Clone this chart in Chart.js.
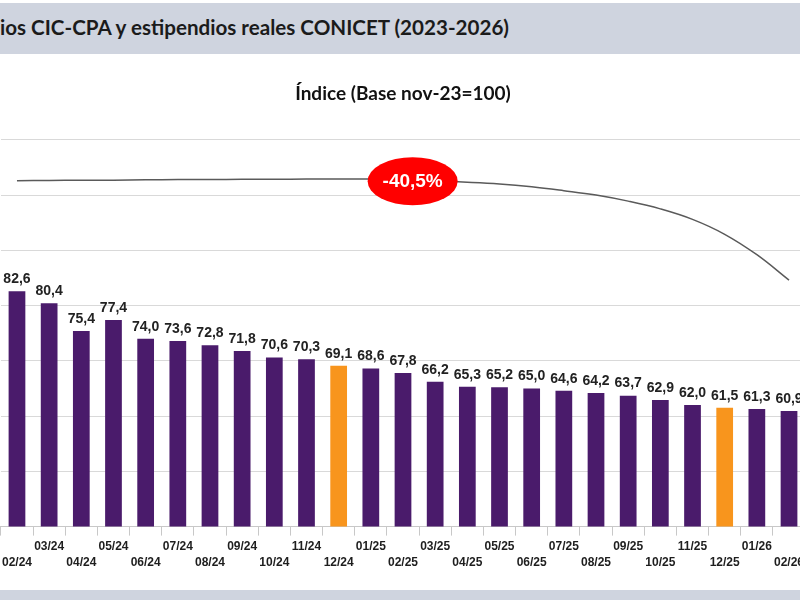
<!DOCTYPE html>
<html>
<head>
<meta charset="utf-8">
<script src="https://cdn.jsdelivr.net/npm/chart.js@4"></script>
<style>
  html, body { margin: 0; padding: 0; width: 800px; height: 600px; overflow: hidden; background: #fff; }
  .band { position: absolute; left: 0; width: 800px; background: #cfd4df; }
  #header { top: 3px; height: 51px; }
  #header span { position: absolute; left: 0; top: 12px; font: bold 20.6px Lato, sans-serif; color: #1b1b1b; white-space: nowrap; }
  #footer { top: 590px; height: 10px; }
  #wrap { position: absolute; left: -1px; top: 56px; width: 808px; height: 534px; }
</style>
</head>
<body>
<div class="band" id="header"><span>ios CIC-CPA y estipendios reales CONICET (2023-2026)</span></div>
<div id="wrap"><canvas id="myBarChart"></canvas></div>
<div class="band" id="footer"></div>
<script>
// months shown (the picture is cropped at both ends)
const months = ['02/24','03/24','04/24','05/24','06/24','07/24','08/24','09/24','10/24','11/24','12/24',
  '01/25','02/25','03/25','04/25','05/25','06/25','07/25','08/25','09/25','10/25','11/25','12/25',
  '01/26','02/26'];

// real index, base nov-23 = 100
const indexValues = [82.6, 80.4, 75.4, 77.4, 74.0, 73.6, 72.8, 71.8, 70.6, 70.3, 69.1,
  68.6, 67.8, 66.2, 65.3, 65.2, 65.0, 64.6, 64.2, 63.7, 62.9, 62.0, 61.5,
  61.3, 60.9];

// december bars are orange
const highlightMonths = ['12/24', '12/25'];

// the grey curve over the bars
const curveValues = [102.6, 102.65, 102.7, 102.7, 102.75, 102.8, 102.8, 102.85, 102.85, 102.9, 102.9,
  102.9, 102.7, 102.5, 102.3, 102.0, 101.5, 100.8, 100.0, 98.9, 97.5, 95.6, 92.9,
  89.2, 84.6];

// red badge on the curve
const badgeText = '-40,5%';
const badgePosition = [12.3, 102.5]; // [category index, value]

const yTicks = [40, 110, 10]; // min, max, step

const purple = '#4a1b6b';
const orange = '#f8951d';

const fmt = (v) => v.toFixed(1).replace('.', ',');

// two rows of month labels, staggered
const buildLabels = (list) => {
  let out = [];
  for (let i = 0; i < list.length; i++) {
    out.push(i % 2 === 0 ? ['', list[i]] : [list[i], '']);
  }
  return out;
}

const valueLabels = {
  id: 'valueLabels',
  afterDatasetsDraw(chart) {
    const ctx = chart.ctx;
    const meta = chart.getDatasetMeta(0);
    ctx.save();
    ctx.font = 'bold 14px "Liberation Sans", Arial, sans-serif';
    ctx.fillStyle = '#222';
    ctx.textAlign = 'center';
    ctx.textBaseline = 'bottom';
    meta.data.forEach((bar, i) => {
      ctx.fillText(fmt(indexValues[i]), bar.x, bar.y - 5);
    });
    ctx.restore();
  }
};

const badge = {
  id: 'badge',
  afterDatasetsDraw(chart) {
    const ctx = chart.ctx;
    const x = chart.scales.x.getPixelForValue(badgePosition[0]);
    const y = chart.scales.y.getPixelForValue(badgePosition[1]);
    ctx.save();
    ctx.beginPath();
    ctx.ellipse(x, y, 45, 24, 0, 0, Math.PI * 2);
    ctx.fillStyle = '#ff0000';
    ctx.fill();
    ctx.font = 'bold 19px "Liberation Sans", Arial, sans-serif';
    ctx.fillStyle = '#fff';
    ctx.textAlign = 'center';
    ctx.textBaseline = 'middle';
    ctx.fillText(badgeText, x, y + 1);
    ctx.restore();
  }
};

var ctx = document.getElementById('myBarChart').getContext('2d');
var myBarChart = new Chart(ctx, {
  data: {
    labels: buildLabels(months),
    datasets: [{
      type: 'bar',
      label: 'Índice',
      data: indexValues,
      backgroundColor: months.map(m => highlightMonths.includes(m) ? orange : purple),
      barPercentage: 1,
      categoryPercentage: 0.52,
      order: 2
    }, {
      type: 'line',
      label: 'curva',
      data: curveValues,
      borderColor: '#5a5a5a',
      borderWidth: 1.5,
      pointRadius: 0,
      tension: 0.4,
      order: 1
    }]
  },
  options: {
    responsive: true,
    maintainAspectRatio: false,
    animation: false,
    events: [],
    layout: { padding: { left: 0, right: 0, top: 0, bottom: 16 } },
    plugins: {
      legend: { display: false },
      tooltip: { enabled: false },
      title: {
        display: true,
        text: 'Índice (Base nov-23=100)',
        color: '#111',
        font: { family: 'Lato, sans-serif', size: 19, weight: 'bold', lineHeight: 1.2 },
        padding: { top: 26, bottom: 35 }
      }
    },
    scales: {
      x: {
        border: { color: '#c8c8c8' },
        grid: { drawOnChartArea: false, drawTicks: true, tickLength: 9, color: '#c8c8c8', offset: true },
        ticks: {
          autoSkip: false,
          maxRotation: 0,
          padding: 3,
          color: '#1e1e1e',
          font: { family: '"Liberation Sans", Arial, sans-serif', size: 12, weight: 'bold', lineHeight: 1.35 }
        }
      },
      y: {
        min: yTicks[0],
        max: yTicks[1],
        border: { display: false },
        grid: { color: '#d9d9d9', drawTicks: false },
        ticks: { display: false, stepSize: yTicks[2] }
      }
    }
  },
  plugins: [valueLabels, badge]
});
</script>
</body>
</html>
